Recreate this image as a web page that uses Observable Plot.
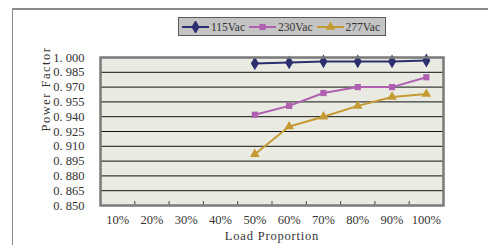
<!DOCTYPE html>
<html><head><meta charset="utf-8">
<script src="https://cdn.jsdelivr.net/npm/d3@7"></script>
<script src="https://cdn.jsdelivr.net/npm/@observablehq/plot@0.6"></script>
<style>
body{margin:0;background:#fff;}
#wrap{position:relative;width:488px;height:245px;overflow:hidden;font-family:"Liberation Serif",serif;}
#border{position:absolute;left:12px;top:8px;width:600px;height:400px;border-left:1px solid #8a8a8a;border-top:2px solid #8a8a8a;}
#chart{position:absolute;left:0;top:0;}
#legend{position:absolute;left:178px;top:17px;width:203px;height:17px;background:#c4c4c4;border:1px solid #5a5a5a;display:flex;align-items:center;padding-left:3px;box-sizing:content-box;}
.item{display:flex;align-items:center;margin-right:4px;}
.item span{font-size:11.5px;color:#333;margin-left:2px;}
</style></head>
<body>
<div id="wrap"><div id="border"></div><div id="chart"></div><div id="legend"></div></div>
<script>
const loads = ["10%","20%","30%","40%","50%","60%","70%","80%","90%","100%"];
const measuredLoads = ["50%","60%","70%","80%","90%","100%"];
const series = ["115Vac","230Vac","277Vac"];
const pf115 = [0.994,0.995,0.996,0.996,0.996,0.997];
const pf230 = [0.942,0.951,0.964,0.970,0.970,0.980];
const pf277 = [0.902,0.930,0.940,0.951,0.960,0.963];
const yTicks = [0.850,0.865,0.880,0.895,0.910,0.925,0.940,0.955,0.970,0.985,1.000];
const colors = ["#2c2f6e","#b060b0","#c49a32"];
const symbols = ["diamond","square","triangle"];
const radii = [4.2,3.5,3.6];

const values = [pf115, pf230, pf277];
const data = series.flatMap((s, si) => measuredLoads.map((l, i) => ({series: s, load: l, pf: values[si][i]})));
const xPos = d => loads.indexOf(d.load) + 0.5;
const font = '"Liberation Serif", serif';
const yFmt = d => d3.format(".3f")(d).replace(".", ". ");

const chart = Plot.plot({
  width: 488, height: 245,
  marginLeft: 100, marginRight: 45, marginTop: 57, marginBottom: 40,
  style: {background: "transparent", fontFamily: font, fontSize: "12.5px", color: "#333"},
  x: {domain: [0, loads.length]},
  y: {domain: [yTicks[0], yTicks[yTicks.length - 1]]},
  color: {domain: series, range: colors},
  marks: [
    Plot.frame({fill: "#e9ebe3", stroke: "none"}),
    Plot.gridY(yTicks.slice(1, -1), {stroke: "#111", strokeOpacity: 1, strokeWidth: 1}),
    Plot.axisY(yTicks, {tickSize: 0, tickPadding: 16, tickFormat: yFmt, label: null}),
    Plot.axisX(loads.map((_, i) => i + 0.5), {tickSize: 0, tickPadding: 10, tickFormat: d => loads[Math.round(d - 0.5)], label: null}),
    Plot.axisX(d3.range(1, loads.length), {tickSize: 4, dy: -4, tickFormat: () => "", stroke: "#444", label: null}),
    Plot.line(data, {x: xPos, y: "pf", z: "series", stroke: "series", strokeWidth: 2}),
    ...series.map((s, si) => Plot.dot(data.filter(d => d.series === s), {x: xPos, y: "pf", symbol: () => symbols[si], fill: colors[si], stroke: "none", r: radii[si]})),
    Plot.frame({stroke: "#7a7a7a", strokeWidth: 2.5}),
    Plot.text(["Power Factor"], {frameAnchor: "left", rotate: -90, dx: -55, fontSize: 12.5, fill: "#333"}),
    Plot.text(["Load Proportion"], {frameAnchor: "bottom", dy: 34, fontSize: 12.5, fill: "#333"})
  ]
});
document.getElementById("chart").appendChild(chart);
d3.select(chart).selectAll("text").filter(function(){ return this.textContent === "Power Factor"; }).style("letter-spacing", "1.5px");
d3.select(chart).selectAll("text").filter(function(){ return this.textContent === "Load Proportion"; }).style("letter-spacing", "0.8px");

// legend
const legend = d3.select("#legend");
series.forEach((s, si) => {
  const item = legend.append("div").attr("class", "item");
  const svg = item.append("svg").attr("width", 27).attr("height", 12);
  svg.append("line").attr("x1", 0).attr("x2", 27).attr("y1", 6).attr("y2", 6).attr("stroke", colors[si]).attr("stroke-width", 2);
  const sym = {diamond: d3.symbolDiamond, square: d3.symbolSquare, triangle: d3.symbolTriangle}[symbols[si]];
  svg.append("path").attr("transform", "translate(13.5,6)").attr("d", d3.symbol(sym, Math.PI * radii[si] * radii[si])()).attr("fill", colors[si]);
  item.append("span").text(s);
});
</script>
</body></html>
